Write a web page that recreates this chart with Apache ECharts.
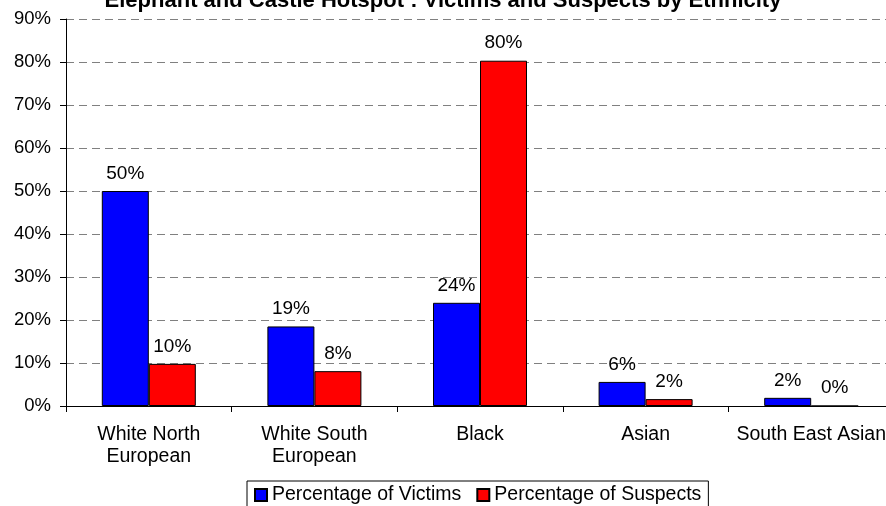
<!DOCTYPE html>
<html><head><meta charset="utf-8">
<script src="https://cdn.jsdelivr.net/npm/echarts@6/dist/echarts.min.js"></script>
<style>html,body{margin:0;padding:0;background:#fff;overflow:hidden}#c{width:900px;height:506px}</style>
</head><body><div id="c"></div>
<script>
var titleText = 'Elephant and Castle Hotspot : Victims and Suspects by Ethnicity';
var categories = ['White North\nEuropean', 'White South\nEuropean', 'Black', 'Asian', 'South East Asian'];
var victims = [50, 18.5, 24, 5.6, 1.9];
var suspects = [9.8, 8.1, 80.3, 1.6, 0];
var seriesNames = ['Percentage of Victims', 'Percentage of Suspects'];
var yTicks = [0, 10, 20, 30, 40, 50, 60, 70, 80, 90];

var font = 'Liberation Sans, Arial, sans-serif';
var chart = echarts.init(document.getElementById('c'), null, {renderer: 'canvas'});
function lbl() {
  return {show: true, position: 'top', distance: 8, color: '#000', fontFamily: font, fontSize: 19,
    formatter: function (p) { return Math.round(p.value) + '%'; }};
}
chart.setOption({
  animation: false,
  backgroundColor: '#fff',
  title: {text: titleText, left: 438, textAlign: 'center', top: -15,
    textStyle: {fontFamily: font, fontSize: 22, fontWeight: 'bold', color: '#000'}},
  grid: {left: 66, top: 19, width: 828, bottom: 100, containLabel: false},
  legend: {data: seriesNames, left: 247, top: 481, itemWidth: 12, itemHeight: 12, itemGap: 15,
    borderColor: '#000', borderWidth: 1, padding: [4, 7, 4, 7], icon: 'rect',
    textStyle: {fontFamily: font, fontSize: 19.5, color: '#000'}},
  xAxis: {type: 'category', data: categories,
    axisLine: {show: true, lineStyle: {color: '#000', width: 1}},
    axisTick: {show: true, length: 6, lineStyle: {color: '#000'}},
    axisLabel: {fontFamily: font, fontSize: 19.5, color: '#000', margin: 18, lineHeight: 22, interval: 0}},
  yAxis: {type: 'value', min: 0, max: 90, interval: 10,
    axisLine: {show: true, lineStyle: {color: '#000', width: 1}},
    axisTick: {show: true, length: 6, lineStyle: {color: '#000'}},
    axisLabel: {fontFamily: font, fontSize: 18.5, color: '#000', margin: 15,
      formatter: function (v) { return yTicks.indexOf(v) >= 0 ? v + '%' : ''; }},
    splitLine: {show: true, lineStyle: {color: '#808080', type: [8, 5], width: 1}}},
  series: [
    {name: seriesNames[0], type: 'bar', data: victims, barWidth: 47, barGap: '0%',
      itemStyle: {color: '#0000ff', borderColor: '#000', borderWidth: 1}, label: lbl()},
    {name: seriesNames[1], type: 'bar', data: suspects, barWidth: 47,
      itemStyle: {color: '#ff0000', borderColor: '#000', borderWidth: 1}, label: lbl()}
  ]
});
</script></body></html>
